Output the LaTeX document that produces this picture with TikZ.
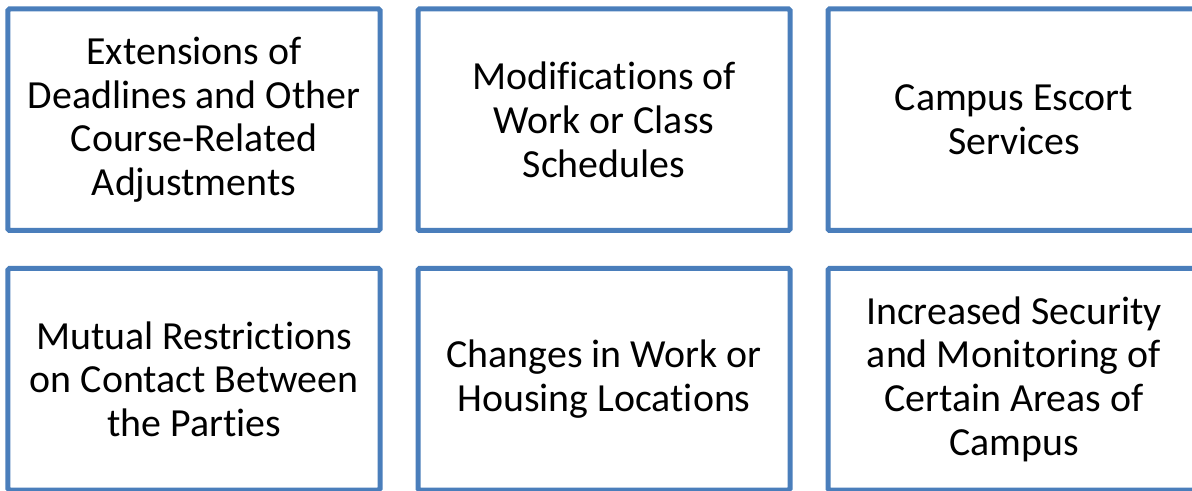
\documentclass[tikz,border=0pt]{standalone}
\usepackage{fontspec}
\setmainfont[Ligatures=NoCommon]{Carlito}
\definecolor{boxblue}{RGB}{74,126,187}
\begin{document}
\begin{tikzpicture}[x=1bp,y=-1bp,
  optbox/.style={draw=boxblue, line width=5bp, rounded corners=1.5bp, fill=white,
    minimum width=372bp, minimum height=221.5bp, inner sep=0pt, align=center,
    text=black, font=\fontsize{40}{44}\selectfont}]
\useasboundingbox (0,0) rectangle (1192,491);
\clip (0,0) rectangle (1192,491);
\node[optbox] (b1) at (194,119.75) {Extensions of\\Deadlines and Other\\Course-Related\\Adjustments};
\node[optbox] (b2) at (604,119.75) {Modifications of\\Work or Class\\Schedules};
\node[optbox] (b3) at (1014,119.75) {Campus Escort\\Services};
\node[optbox] (b4) at (194,379.25) {Mutual Restrictions\\on Contact Between\\the Parties};
\node[optbox] (b5) at (604,379.25) {Changes in Work or\\Housing Locations};
\node[optbox] (b6) at (1014,379.25) {Increased Security\\and Monitoring of\\Certain Areas of\\Campus};
\end{tikzpicture}
\end{document}
